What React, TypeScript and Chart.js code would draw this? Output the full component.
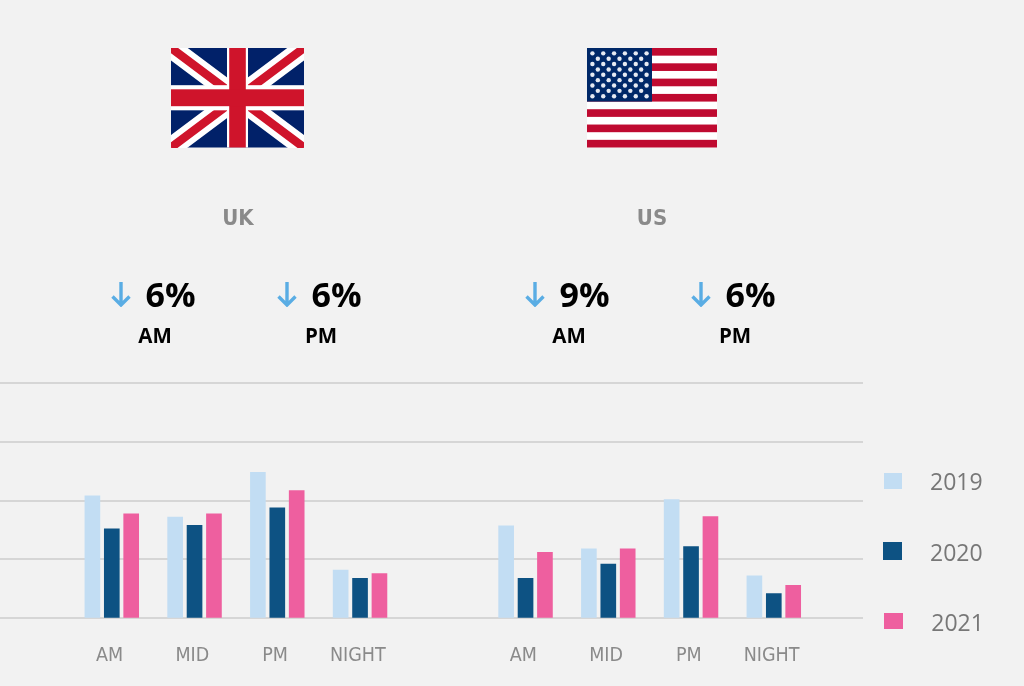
import React, { useEffect, useRef } from "react";
import { Chart, registerables } from "chart.js";

Chart.register(...registerables);

const categories = ["AM", "MID", "PM", "NIGHT", "", "AM", "MID", "PM", "NIGHT"];
const years = ["2019", "2020", "2021"];
const colors = ["#c2ddf3", "#0d5283", "#ee5f9f"];
const values2019 = [10.4, 8.6, 12.4, 4.1, null, 7.85, 5.9, 10.1, 3.6];
const values2020 = [7.6, 7.9, 9.4, 3.4, null, 3.4, 4.6, 6.1, 2.1];
const values2021 = [8.87, 8.87, 10.85, 3.8, null, 5.6, 5.9, 8.65, 2.8];
const yTicks = [0, 5, 10, 15, 20];

const countries = [
  { name: "UK", cx: 238, am: "6%", pm: "6%", x1: 121, x2: 287 },
  { name: "US", cx: 652, am: "9%", pm: "6%", x1: 535, x2: 701 },
];

const legendLayout = [
  { box: [884.3, 472.7, 17.4, 16.6], textX: 930, textY: 481 },
  { box: [883, 541.7, 18.7, 18.6], textX: 930, textY: 551.7 },
  { box: [884.3, 612.7, 18.4, 16.6], textX: 931.3, textY: 622 },
];

const NARROW = '"DejaVu Sans Condensed", "Roboto", sans-serif';
const BOLD = '"Open Sans", "Noto Sans", sans-serif';

function abs(x: number, y: number, extra: React.CSSProperties = {}): React.CSSProperties {
  return { position: "absolute", left: x, top: y, whiteSpace: "nowrap", lineHeight: 1, ...extra };
}

function UKFlag() {
  const d = "M0,0 L133,99 M133,0 L0,99";
  return (
    <svg width={133} height={99.5} viewBox="0 0 133 99" preserveAspectRatio="none" style={{ position: "absolute", left: 171, top: 48, filter: "blur(0.5px)" }}>
      <rect width={133} height={99} fill="#012169" />
      <path d={d} stroke="#fff" strokeWidth={20} />
      <path d={d} stroke="#cf142b" strokeWidth={8.5} />
      <rect x={56} width={21} height={99} fill="#fff" />
      <rect y={37} width={133} height={25} fill="#fff" />
      <rect x={58.2} width={16.6} height={99} fill="#cf142b" />
      <rect y={41.1} width={133} height={16.8} fill="#cf142b" />
    </svg>
  );
}

function USFlag() {
  const w = 130.6;
  const h = 99.5;
  const sh = h / 13;
  const cw = 65;
  const ch = sh * 7;
  const stars: React.ReactNode[] = [];
  for (let r = 0; r < 9; r++) {
    const n = r % 2 === 0 ? 6 : 5;
    for (let c = 0; c < n; c++) {
      const x = (cw / 12) * (r % 2 === 0 ? 2 * c + 1 : 2 * c + 2);
      const y = (ch / 10) * (r + 1);
      stars.push(<circle key={`${r}-${c}`} cx={x} cy={y} r={2.2} fill="#e6eaf2" />);
    }
  }
  return (
    <svg width={w} height={h} viewBox={`0 0 ${w} ${h}`} style={{ position: "absolute", left: 586.7, top: 48, filter: "blur(0.5px)" }}>
      <rect width={w} height={h} fill="#fff" />
      {Array.from({ length: 7 }, (_, i) => (
        <rect key={i} y={i * 2 * sh} width={w} height={sh} fill="#bf0a30" />
      ))}
      <rect width={cw} height={ch} fill="#002868" />
      {stars}
    </svg>
  );
}

function Arrow({ x }: { x: number }) {
  return (
    <svg width={20} height={26} viewBox="0 0 20 26" style={{ position: "absolute", left: x - 10, top: 281 }}>
      <path d="M10,1 V24 M1.5,15.5 L10,24 L18.5,15.5" fill="none" stroke="#5aade4" strokeWidth={3.4} />
    </svg>
  );
}

export default function App() {
  const ref = useRef<HTMLCanvasElement>(null);

  useEffect(() => {
    const series = [values2019, values2020, values2021];
    const chart = new Chart(ref.current!, {
      type: "bar",
      data: {
        datasets: series.map((vals, s) => ({
          label: years[s],
          data: vals.map((v, i) => ({ x: i, y: v })),
          backgroundColor: colors[s],
          barThickness: 19.4,
          maxBarThickness: 15,
        })),
      } as any,
      options: {
        responsive: false,
        animation: false,
        layout: { padding: { top: 383, right: 161, left: 0, bottom: 0 } },
        plugins: { legend: { display: false }, tooltip: { enabled: false } },
        scales: {
          x: {
            type: "linear",
            offset: false,
            min: -1.351,
            max: 9.078,
            grid: { display: false },
            border: { display: false },
            afterBuildTicks: (scale: any) => {
              scale.ticks = categories
                .map((c, i) => ({ c, value: i }))
                .filter((t) => t.c !== "")
                .map((t) => ({ value: t.value }));
            },
            afterFit: (scale: any) => {
              scale.height = 67.7;
            },
            ticks: {
              autoSkip: false,
              maxRotation: 0,
              padding: 18,
              labelOffset: -2.2,
              color: "#8a8a8a",
              font: { family: NARROW, size: 19.5 },
              callback: (v: any) => categories[v as number],
            },
          },
          y: {
            min: 0,
            max: 20,
            afterBuildTicks: (scale: any) => {
              scale.ticks = yTicks.map((value) => ({ value }));
            },
            afterFit: (scale: any) => {
              scale.width = 0;
            },
            grid: { color: "#d6d6d6", lineWidth: 2, drawTicks: false },
            border: { display: false },
            ticks: { display: false },
          },
        },
      },
    } as any);
    return () => chart.destroy();
  }, []);

  return (
    <div style={{ position: "absolute", left: 0, top: 0, width: 1024, height: 686, background: "#f2f2f2", overflow: "hidden", filter: "blur(0.45px)" }}>
      <canvas ref={ref} width={1024} height={686} style={{ position: "absolute", left: 0, top: 0, width: 1024, height: 686 }} />
      <UKFlag />
      <USFlag />
      {countries.map((c) => (
        <React.Fragment key={c.name}>
          <div style={abs(c.cx, 204.5, { transform: "translateX(-50%)", font: `bold 22px ${NARROW}`, color: "#8a8a8a" })}>{c.name}</div>
          <Arrow x={c.x1} />
          <Arrow x={c.x2} />
          <div style={abs(c.x1 + 24.5, 270.5, { font: `700 34px ${BOLD}`, color: "#000" })}>{c.am}</div>
          <div style={abs(c.x2 + 24.5, 270.5, { font: `700 34px ${BOLD}`, color: "#000" })}>{c.pm}</div>
          <div style={abs(c.x1 + 34, 320.5, { transform: "translateX(-50%)", font: `700 20.5px ${BOLD}`, color: "#000" })}>AM</div>
          <div style={abs(c.x2 + 34, 320.5, { transform: "translateX(-50%)", font: `700 20.5px ${BOLD}`, color: "#000" })}>PM</div>
        </React.Fragment>
      ))}
      {years.map((y, i) => {
        const l = legendLayout[i];
        return (
          <React.Fragment key={y}>
            <div style={{ position: "absolute", left: l.box[0], top: l.box[1], width: l.box[2], height: l.box[3], background: colors[i] }} />
            <div style={abs(l.textX, l.textY, { transform: "translateY(-50%)", font: `23px "Open Sans", sans-serif`, color: "#777" })}>{y}</div>
          </React.Fragment>
        );
      })}
    </div>
  );
}
